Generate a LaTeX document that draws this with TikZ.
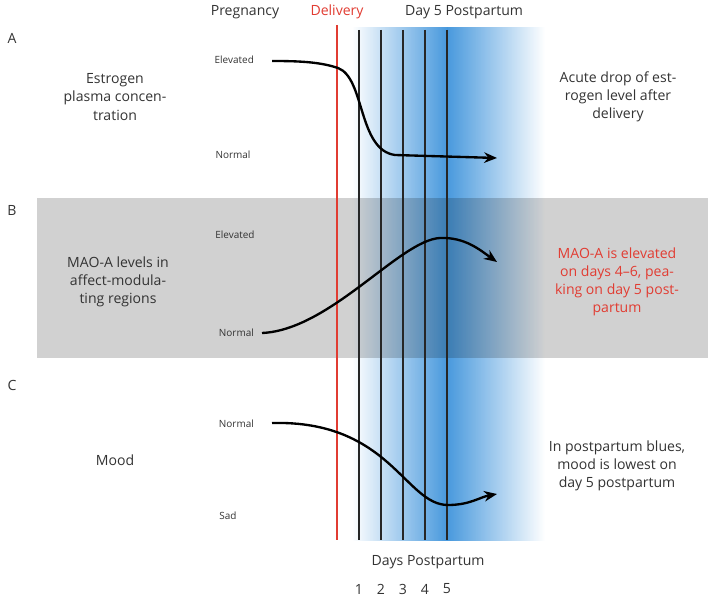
\documentclass[tikz,border=0pt]{standalone}
\usepackage{fontspec}
\setmainfont{Open Sans}
\usetikzlibrary{arrows.meta}
\definecolor{dayblue}{RGB}{40,135,215}
\definecolor{delred}{RGB}{225,60,50}
\tikzset{
  txt/.style={font=\fontsize{12}{15.5}\selectfont, align=center, text=black!80},
  lvl/.style={font=\fontsize{8.5}{10}\selectfont, text=black!80},
  curve/.style={line width=2pt, -{Stealth[length=11pt,width=9pt]}},
  dayline/.style={line width=1.2pt, black!85}
}
\begin{document}
\begin{tikzpicture}[x=0.03cm,y=-0.03cm]
  \useasboundingbox (0,0) rectangle (708,600);
  % blue gradient
  \shade[left color=white, right color=dayblue, opacity=0.85] (352,28) rectangle (447,540);
  \shade[left color=dayblue, right color=white, opacity=0.85] (447,28) rectangle (545,540);
  % gray band B
  \fill[black, opacity=0.18] (37,198) rectangle (708,358);
  % day lines
  \draw[delred, line width=1.2pt] (337,25) -- (337,540);
  \foreach \d/\x in {1/359,2/381,3/403,4/425,5/447} {
    \draw[dayline] (\x,30) -- (\x,540);
    \node[txt] (n\d) at (\x,589) {\d};
  }
  % headers
  \node[txt] (preg) at (245,12) {Pregnancy};
  \node[txt, text=delred] (deliv) at (337,12) {Delivery};
  \node[txt] (day5) at (464,12) {Day 5 Postpartum};
  \node[txt] (dpp) at (428,562) {Days Postpartum};
  % section letters
  \node[txt] (la) at (12,38) {A};
  \node[txt] (lb) at (12,210) {B};
  \node[txt] (lc) at (12,385) {C};
  % left texts
  \node[txt] (ta) at (115,97) {Estrogen\\plasma concen-\\tration};
  \node[txt] (tb) at (118,282) {MAO-A levels in\\affect-modula-\\ting regions};
  \node[txt] (tc) at (115,460) {Mood};
  % right texts
  \node[txt] (ra) at (618,97) {Acute drop of est-\\rogen level after\\delivery};
  \node[txt, text=delred] (rb) at (617,282) {MAO-A is elevated\\on days 4--6, pea-\\king on day 5 post-\\partum};
  \node[txt] (rc) at (617,466) {In postpartum blues,\\mood is lowest on\\day 5 postpartum};
  % level labels
  \node[lvl, anchor=east] (ae) at (258,60) {Elevated};
  \node[lvl] (an) at (233,155) {Normal};
  \node[lvl] (be) at (235,235) {Elevated};
  \node[lvl, anchor=east] (bn) at (258,333) {Normal};
  \node[lvl, anchor=east] (cn) at (258,424) {Normal};
  \node[lvl] (cs) at (228,516) {Sad};
  % curves
  \coordinate (a0) at (272,61); \coordinate (a1) at (497,158);
  \coordinate (b0) at (262,333); \coordinate (b1) at (497,262);
  \coordinate (c0) at (272,423); \coordinate (c1) at (497,494);
  \draw[curve] (a0) .. controls (300,61) and (320,62) .. (338,68) .. controls (365,78) and (358,150) .. (395,155) -- (a1);
  \draw[curve] (b0) .. controls (330,330) and (400,240) .. (440,238) .. controls (465,237) and (480,250) .. (b1);
  \draw[curve] (c0) .. controls (390,420) and (405,505) .. (448,505) .. controls (470,505) and (480,497) .. (c1);
\end{tikzpicture}
\end{document}
